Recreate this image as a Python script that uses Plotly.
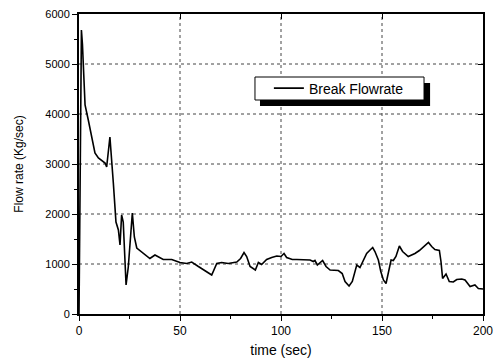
import plotly.graph_objects as go

time_sec = [0, 1.2, 1.7, 2.2, 3.0, 4.6, 6.3, 7.9, 9.6, 12.9, 13.7, 15.3, 17.0, 18.3, 19.5, 20.3,
            21.1, 21.9, 23.3, 24.4, 26.4, 27.4, 28.6, 31.0, 32.7, 35.1, 37.6, 41.7, 45.9,
            50.0, 53.3, 55.8, 59.1, 62.4, 65.7, 68.2, 70.6, 73.9, 78.1, 80.0, 81.7, 83.0,
            84.7, 87.3, 88.8, 90.4, 92.9, 95.4, 97.9, 100.0, 101.5, 102.8, 104.5, 105.6,
            107.8, 111.0, 114.4, 116.0, 116.8, 118.0, 119.3, 120.6, 122.3, 124.3, 128.4,
            130.3, 131.7, 133.7, 135.3, 137.5, 139.1, 140.8, 142.4, 144.1, 145.4, 146.5,
            148.2, 149.4, 150.7, 152.0, 153.1, 154.5, 155.6, 156.9, 158.6, 160.2, 163.0,
            166.3, 168.5, 170.5, 171.8, 173.0, 174.6, 176.2, 178.4, 179.2, 180.0, 181.7,
            183.3, 185.3, 187.0, 189.5, 191.1, 193.6, 196.0, 197.7, 200.0]
flow_rate = [0, 5680, 5400, 5000, 4180, 3880, 3520, 3220, 3120, 3020, 2940, 3540, 2620, 1840,
             1680, 1380, 1980, 1840, 580, 940, 2020, 1540, 1320, 1240, 1180, 1110, 1180,
             1090, 1090, 1030, 1010, 1040, 950, 870, 780, 1010, 1030, 1010, 1040, 1110,
             1230, 1150, 950, 880, 1030, 990, 1090, 1130, 1160, 1150, 1210, 1130, 1110,
             1090, 1090, 1080, 1080, 1050, 1070, 980, 1030, 1070, 950, 880, 870, 810, 650,
             560, 650, 980, 930, 1080, 1210, 1280, 1330, 1250, 1080, 850, 680, 610, 850,
             1080, 1070, 1150, 1360, 1250, 1150, 1210, 1270, 1350, 1400, 1430, 1350, 1290,
             1270, 1050, 710, 800, 650, 640, 690, 700, 680, 550, 580, 510, 500]

x_ticks = [0, 50, 100, 150, 200]
y_ticks = [0, 1000, 2000, 3000, 4000, 5000, 6000]
x_minor = [25, 75, 125, 175]
y_minor = [500, 1500, 2500, 3500, 4500, 5500]
x_grid = [50, 100, 150]
y_grid = [1000, 2000, 3000, 4000, 5000]
X_RANGE = [0, 200]
Y_RANGE = [0, 6000]

FONT = "Liberation Sans, Arial, sans-serif"

# grid line paths built from the grid value lists
gx, gy = [], []
for v in x_grid:
    gx += [v, v, None]
    gy += [Y_RANGE[0], Y_RANGE[1], None]
for v in y_grid:
    gx += [X_RANGE[0], X_RANGE[1], None]
    gy += [v, v, None]

fig = go.Figure()
fig.add_trace(go.Scatter(x=gx, y=gy, mode="lines", showlegend=False, hoverinfo="skip",
                         line=dict(color="#444", width=1, dash="dot")))
fig.add_trace(go.Scatter(x=time_sec, y=flow_rate, mode="lines", name="Break Flowrate",
                         line=dict(color="black", width=1.6)))
# invisible helper trace carrying the top/right frame axes (inward ticks)
fig.add_trace(go.Scatter(x=time_sec, y=flow_rate, xaxis="x2", yaxis="y2", mode="lines",
                         line=dict(color="rgba(0,0,0,0)", width=0), showlegend=False,
                         hoverinfo="skip"))

frame = dict(showline=True, linecolor="black", linewidth=2, tickcolor="black", tickwidth=1,
             zeroline=False, automargin=False, showgrid=False)

fig.update_layout(
    template="none",
    width=498, height=364,
    margin=dict(l=79, r=15, t=14, b=50, autoexpand=False),
    paper_bgcolor="white", plot_bgcolor="white",
    font=dict(family=FONT, color="black", size=12),
    showlegend=True,
    legend=dict(x=0.470, y=0.7517, xanchor="left", yanchor="middle",
                bgcolor="rgba(0,0,0,0)", borderwidth=0,
                font=dict(size=14, family=FONT), itemwidth=30, tracegroupgap=0),
    xaxis=dict(range=X_RANGE, tickvals=x_ticks, ticks="outside", ticklen=5,
               tickfont=dict(size=12),
               minor=dict(tickvals=x_minor, ticks="outside", ticklen=3, tickcolor="black",
                          showgrid=False),
               title=dict(text="time (sec)", font=dict(size=14), standoff=8), **frame),
    yaxis=dict(range=Y_RANGE, tickvals=y_ticks, ticks="outside", ticklen=5,
               tickfont=dict(size=11),
               minor=dict(tickvals=y_minor, ticks="outside", ticklen=3, tickcolor="black",
                          showgrid=False),
               title=dict(text="Flow rate (Kg/sec)", font=dict(size=12), standoff=19), **frame),
    xaxis2=dict(range=X_RANGE, overlaying="x", side="top", tickvals=x_ticks, ticks="inside",
                ticklen=5, showticklabels=False, **frame),
    yaxis2=dict(range=Y_RANGE, overlaying="y", side="right", tickvals=y_ticks, ticks="inside",
                ticklen=5, showticklabels=False, **frame),
)

# legend frame and its drop shadow
fig.add_shape(type="rect", xref="paper", yref="paper", x0=0.448, x1=0.869, y0=0.693, y1=0.77,
              fillcolor="black", line=dict(width=0), layer="above")
fig.add_shape(type="rect", xref="paper", yref="paper", x0=0.4356, x1=0.854, y0=0.7133, y1=0.79,
              fillcolor="white", line=dict(color="black", width=1), layer="above")

fig.write_html("out.html")
